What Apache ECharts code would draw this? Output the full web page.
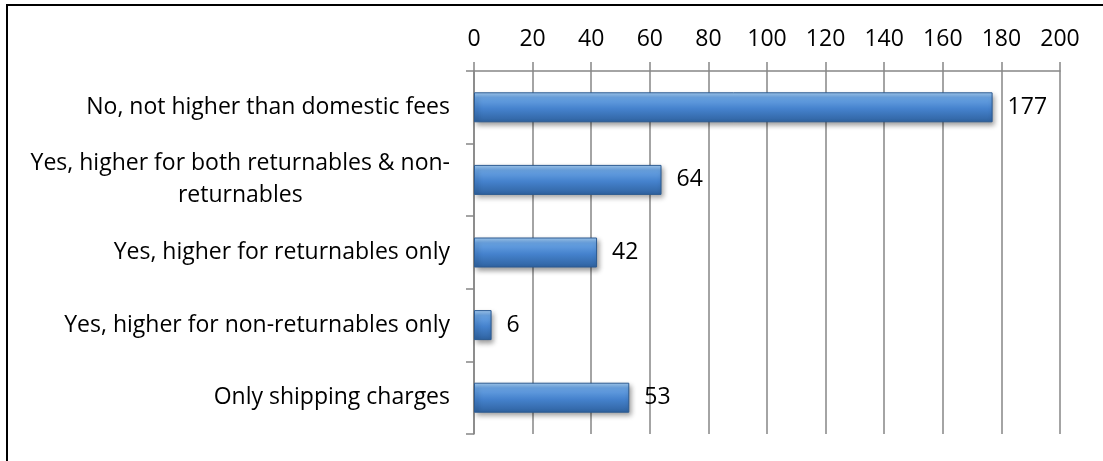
<!DOCTYPE html>
<html>
<head>
<meta charset="utf-8">
<script src="https://cdn.jsdelivr.net/npm/echarts@6/dist/echarts.min.js"></script>
<style>
  html, body { margin: 0; padding: 0; background: #fff; }
  #chart { width: 1103px; height: 461px; }
</style>
</head>
<body>
<div id="chart"></div>
<script>
// categories, top to bottom
var categories = [
  'No, not higher than domestic fees',
  'Yes, higher for both returnables & non-\nreturnables',
  'Yes, higher for returnables only',
  'Yes, higher for non-returnables only',
  'Only shipping charges'
];
var counts = [177, 64, 42, 6, 53];
var axisMin = 0, axisMax = 200, axisStep = 20;

var font = 'Open Sans';
var fs = 23;
var chart = echarts.init(document.getElementById('chart'));

var option = {
  backgroundColor: '#fff',
  animation: false,
  // frame lines (top + left) like the cropped chart border
  graphic: [
    { type: 'line', shape: { x1: 6, y1: 5, x2: 1103, y2: 5 }, style: { stroke: '#000', lineWidth: 2 } },
    { type: 'line', shape: { x1: 7, y1: 5, x2: 7, y2: 461 }, style: { stroke: '#000', lineWidth: 2 } }
  ],
  grid: { left: 474, right: 43, top: 71, bottom: 27, containLabel: false },
  xAxis: {
    type: 'value',
    position: 'top',
    min: axisMin, max: axisMax, interval: axisStep,
    axisLine: { show: true, lineStyle: { color: '#868686', width: 1.5 } },
    axisTick: { show: true, length: 9, lineStyle: { color: '#868686', width: 1.5 } },
    axisLabel: { margin: 20, color: '#000', fontFamily: font, fontSize: fs },
    splitLine: { show: true, lineStyle: { color: '#868686', width: 1.5 } }
  },
  yAxis: {
    type: 'category',
    inverse: true,
    data: categories,
    axisLine: { show: true, lineStyle: { color: '#868686', width: 1.5 } },
    axisTick: { show: true, length: 8, lineStyle: { color: '#868686', width: 1.5 } },
    axisLabel: {
      margin: 24,
      color: '#000',
      fontFamily: font,
      fontSize: fs,
      formatter: function (v) {
        return v.split('\n').map(function (s) { return '{c|' + s + '}'; }).join('\n');
      },
      rich: { c: { align: 'center', fontFamily: font, fontSize: fs, color: '#000', lineHeight: 32 } }
    }
  },
  series: [{
    type: 'bar',
    data: counts,
    barWidth: 30,
    itemStyle: {
      color: new echarts.graphic.LinearGradient(0, 0, 0, 1, [
        { offset: 0, color: '#a5cdf3' },
        { offset: 0.18, color: '#6aa4e4' },
        { offset: 0.55, color: '#4582cd' },
        { offset: 1, color: '#2f629f' }
      ]),
      borderColor: '#2c5b92',
      borderWidth: 1,
      shadowColor: 'rgba(0,0,0,0.4)',
      shadowBlur: 5,
      shadowOffsetX: 2,
      shadowOffsetY: 3
    },
    label: {
      show: true,
      position: 'right',
      distance: 15,
      color: '#000',
      fontFamily: font,
      fontSize: fs
    }
  }]
};

chart.setOption(option);
</script>
</body>
</html>
